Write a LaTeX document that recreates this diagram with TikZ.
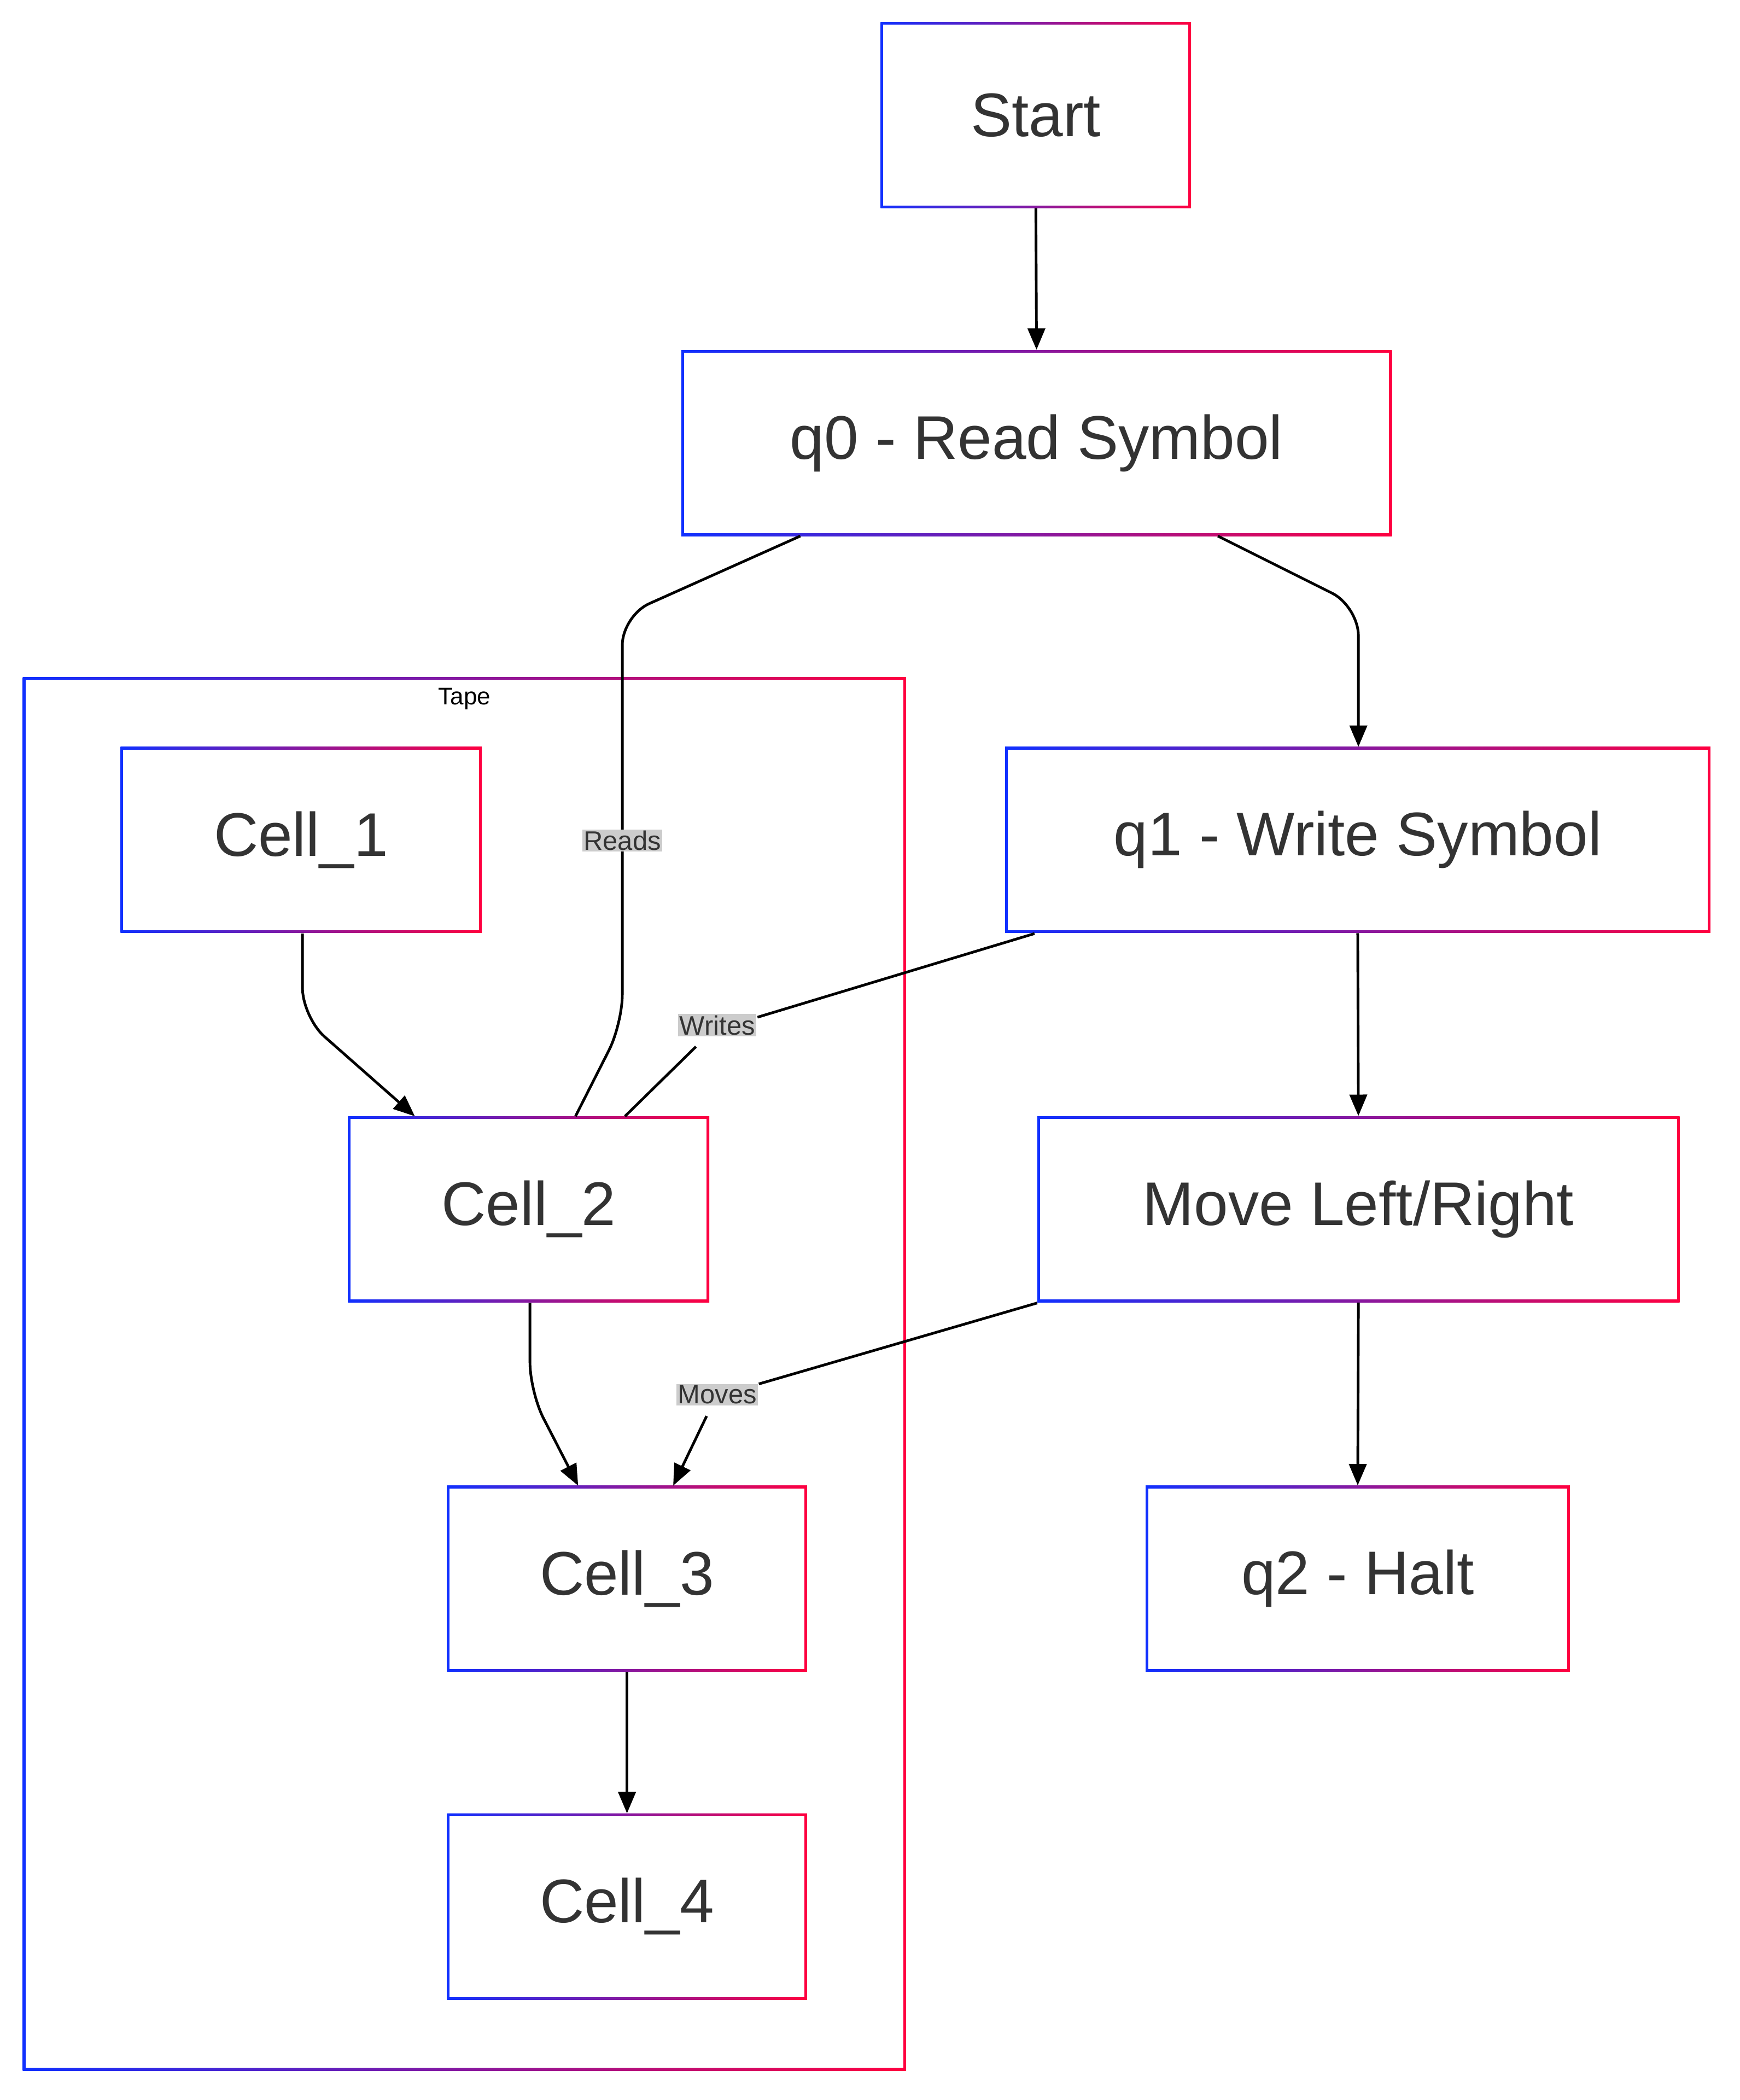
\documentclass[tikz,border=0pt]{standalone}
\usepackage{fontspec}
\setmainfont{Liberation Sans}
\usetikzlibrary{arrows.meta}
\definecolor{gb}{HTML}{1030FF}
\definecolor{gr}{HTML}{FF0040}
\definecolor{tx}{HTML}{333333}
\definecolor{lb}{HTML}{CCCCCC}
\newcommand{\gbox}[6]{%
  \shade[left color=gb,right color=gr] (#2-#4/2,-#3-#5/2) rectangle (#2+#4/2,-#3+#5/2);
  \fill[white] (#2-#4/2+2,-#3-#5/2+2) rectangle (#2+#4/2-2,-#3+#5/2-2);
  \node[nd,minimum width=#4pt,minimum height=#5pt] (#1) at (#2,-#3) {#6};}
\begin{document}
\begin{tikzpicture}[x=1pt,y=1pt,
  nd/.style={inner sep=0pt,text=tx,font=\fontsize{46}{55}\selectfont},
  ln/.style={line width=2pt,black,rounded corners=22pt},
  ar/.style={ln,-{Triangle[length=16pt,width=13pt]}},
  lab/.style={fill=lb,text=tx,inner sep=1pt,font=\fontsize{20}{24}\selectfont}]
\useasboundingbox (0,0) rectangle (1300,-1569);
\fill[white] (0,0) rectangle (1300,-1569);
% Tape cluster
\shade[left color=gb,right color=gr] (17,-506) rectangle (677,-1547);
\fill[white] (19,-508) rectangle (675,-1545);
\node[font=\fontsize{18}{22}\selectfont] (tape) at (347,-522) {Tape};
\gbox{start}{774}{86}{232}{139}{Start}
\gbox{q0}{774.5}{331}{531}{139}{q0 - Read Symbol}
\gbox{q1}{1014.5}{627.5}{527}{139}{q1 - Write Symbol}
\gbox{mv}{1015}{903.5}{480}{139}{Move Left/Right}
\gbox{q2}{1014.5}{1179.5}{317}{139}{q2 - Halt}
\gbox{c1}{225}{627.5}{270}{139}{Cell\_1}
\gbox{c2}{395}{903.5}{270}{139}{Cell\_2}
\gbox{c3}{468.5}{1179.5}{269}{139}{Cell\_3}
\gbox{c4}{468.5}{1424.5}{269}{139}{Cell\_4}
\draw[ar] (start.south) -- (q0.south |- q0.north);
\draw[ar] (910,-400.5) -- (1015,-453) -- (1015,-558);
\draw[ln] (598,-400.5) -- (465,-460) -- (465,-765) -- (430,-834);
\node[lab] (lr) at (465,-628) {Reads};
\draw[ln] (773,-697.5) -- (566,-760);
\draw[ln] (520,-782) -- (467,-834);
\node[lab] (lw) at (536,-766) {Writes};
\draw[ar] (q1.south) -- (mv.north);
\draw[ln] (775,-973.5) -- (567,-1034);
\draw[ar] (528,-1058) -- (503,-1110);
\node[lab] (lm) at (536,-1042) {Moves};
\draw[ar] (mv.south) -- (q2.north);
\draw[ar] (226,-697.5) -- (226,-760) -- (310,-834);
\draw[ar] (396,-973.5) -- (396,-1040) -- (432,-1110);
\draw[ar] (c3.south) -- (c4.north);
\end{tikzpicture}
\end{document}
